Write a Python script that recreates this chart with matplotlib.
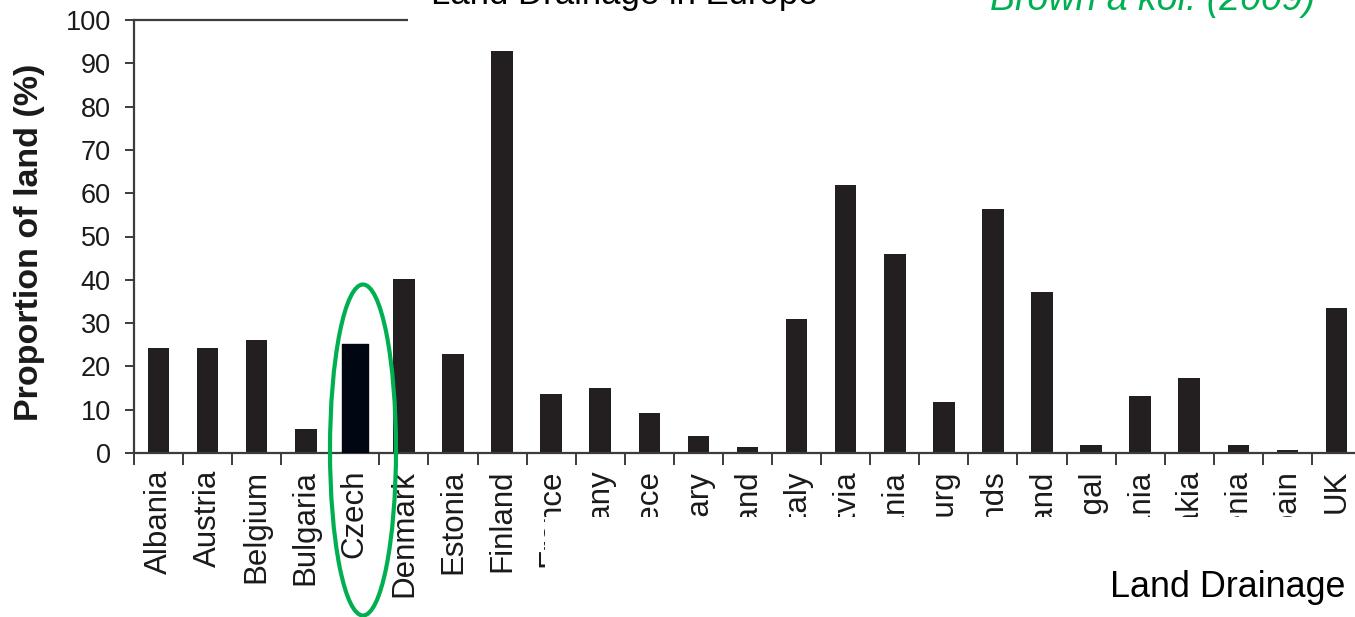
import matplotlib

matplotlib.use("Agg")
import matplotlib.pyplot as plt
from matplotlib.patches import Ellipse, Rectangle
import numpy as np

countries = [
    "Albania", "Austria", "Belgium", "Bulgaria", "Czech", "Denmark", "Estonia",
    "Finland", "France", "Germany", "Greece", "Hungary", "Ireland", "Italy",
    "Latvia", "Lithuania", "Luxembourg", "Netherlands", "Poland", "Portugal",
    "Romania", "Slovakia", "Slovenia", "Spain", "UK",
]
drained_pct = [
    24.2, 24.2, 26.0, 5.5, 25.2, 40.2, 22.9,
    92.9, 13.6, 14.9, 9.3, 3.9, 1.4, 31.0,
    62.0, 45.9, 11.8, 56.4, 37.1, 1.9,
    13.1, 17.4, 1.9, 0.7, 33.4,
]
highlight = "Czech"

W, H = 1355, 617
BAR = "#231f20"
GREEN = "#00b050"
AXIS = "#3c3c3c"

plt.rcParams["font.family"] = ["Liberation Sans", "DejaVu Sans"]

fig = plt.figure(figsize=(W / 100, H / 100), dpi=100)
fig.patch.set_facecolor("white")


def fx(px):
    return px / W


def fy(py):
    return 1 - py / H


ax = fig.add_axes([fx(134), fy(453), fx(1361 - 134), (453 - 20) / H])

x = np.arange(len(countries))
vals = np.array(drained_pct)
hi = countries.index(highlight)
mask = np.arange(len(countries)) != hi

ax.bar(x[mask], vals[mask], width=0.44, color=BAR, zorder=2)
ax.bar(x[hi], vals[hi], width=0.53, color="#000612", edgecolor="#000612",
       linewidth=1, joinstyle="round", zorder=3)

ax.set_xlim(-0.5, len(countries) - 0.5)
ax.set_ylim(0, 100)

ax.set_xticks(x)
ax.set_xticklabels(countries, rotation=90, fontsize=22.5, color="#1a1a1a")
ax.set_xticks(np.arange(-0.5, len(countries), 1), minor=True)
ax.tick_params(axis="x", which="major", length=0, pad=12)
ax.tick_params(axis="x", which="minor", length=8.4, width=1.4, color=AXIS,
               direction="out")

ax.set_yticks(np.arange(0, 101, 10))
ax.tick_params(axis="y", length=6.7, width=1.4, color=AXIS, direction="out",
               pad=10, labelsize=19.5, labelcolor="#1a1a1a")

ax.set_ylabel("Proportion of land (%)", fontsize=24.5, fontweight="bold",
              color="#1a1a1a")
ax.yaxis.set_label_coords((45 - 134) / (1361 - 134), (453 - 242) / 433)

for side in ("left", "bottom", "top", "right"):
    ax.spines[side].set_color(AXIS)
    ax.spines[side].set_linewidth(1.6)

# white panels laid over the chart, as on the slide
fig.add_artist(Rectangle((fx(408), fy(30)), fx(W - 408), 30 / H,
                         transform=fig.transFigure, facecolor="white",
                         edgecolor="none", zorder=5))
fig.add_artist(Rectangle((fx(545), 0), fx(W - 545), (H - 517) / H,
                         transform=fig.transFigure, facecolor="white",
                         edgecolor="none", zorder=5))

fig.text(fx(624), fy(4), "Land Drainage in Europe", ha="center",
         va="baseline", fontsize=25, color="black", zorder=6)
fig.text(fx(1315), fy(10.5), "Brown a kol. (2009)", ha="right",
         va="baseline", fontsize=27, style="italic", color=GREEN, zorder=6)
fig.text(fx(1345), fy(597), "Land Drainage", ha="right", va="baseline",
         fontsize=25.8, color="black", zorder=6)

fig.add_artist(Ellipse((fx(363), fy(450)), fx(66), 331 / H,
                       transform=fig.transFigure, fill=False,
                       edgecolor=GREEN, linewidth=3, zorder=7))

fig.savefig("out.png", dpi=100)
plt.close(fig)
